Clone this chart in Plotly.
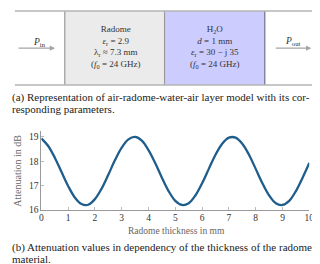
import plotly.graph_objects as go

# ---- data ----
thickness_mm = [0, 0.25, 0.5, 0.75, 1.0, 1.25, 1.5, 1.75, 2.0, 2.25, 2.5, 2.75, 3.0, 3.25,
                3.5, 3.75, 4.0, 4.25, 4.5, 4.75, 5.0, 5.25, 5.5, 5.75, 6.0, 6.25, 6.5, 6.75,
                7.0, 7.25, 7.5, 7.75, 8.0, 8.25, 8.5, 8.75, 9.0, 9.25, 9.5, 9.75, 10.0]
attenuation_db = [18.94, 18.64, 18.16, 17.57, 16.99, 16.52, 16.25, 16.22, 16.45, 16.88, 17.45,
                  18.05, 18.56, 18.90, 19.00, 18.85, 18.46, 17.93, 17.33, 16.78, 16.38, 16.21,
                  16.28, 16.60, 17.10, 17.69, 18.27, 18.72, 18.97, 18.97, 18.72, 18.27, 17.69,
                  17.10, 16.60, 16.28, 16.21, 16.38, 16.78, 17.33, 17.93]
x_ticks = [0, 1, 2, 3, 4, 5, 6, 7, 8, 9, 10]
y_ticks = [16, 17, 18, 19]

radome_lines = ["Radome", "<i>ε</i><sub>r</sub> = 2.9", "λ<sub>r</sub> ≈ 7.3 mm",
                "(<i>f</i><sub>0</sub> = 24 GHz)"]
water_lines = ["H<sub>2</sub>O", "<i>d</i> = 1 mm", "<i>ε</i><sub>r</sub> = 30 − j 35",
               "(<i>f</i><sub>0</sub> = 24 GHz)"]
caption_a = ["(a) Representation of air-radome-water-air layer model with its cor-",
             "responding parameters."]
caption_b = ["(b) Attenuation values in dependency of the thickness of the radome",
             "material."]

W, H = 320, 264
SERIF = "Liberation Serif, DejaVu Serif, serif"


def px(x):
    return x / W


def py(y):
    return 1 - y / H


def label(x, y, text, size, color, xanchor="center", **kw):
    return dict(xref="paper", yref="paper", x=px(x), y=py(y), text=text, showarrow=False,
                xanchor=xanchor, yanchor="middle",
                font=dict(family=SERIF, size=size, color=color), **kw)


fig = go.Figure()
fig.add_trace(go.Scatter(x=thickness_mm, y=attenuation_db, mode="lines",
                         line=dict(color="#1f5d8c", width=2.3, shape="spline"),
                         showlegend=False, hoverinfo="skip"))

shapes = []
# layer boxes
shapes.append(dict(type="rect", xref="paper", yref="paper", x0=px(56), x1=px(158),
                   y0=py(78.5), y1=py(3), fillcolor="#ebebeb", line=dict(width=0), layer="below"))
shapes.append(dict(type="rect", xref="paper", yref="paper", x0=px(158), x1=px(260.5),
                   y0=py(78.5), y1=py(3), fillcolor="#ccccff", line=dict(width=0), layer="below"))
for xv, col in [(56, "#9a9a9a"), (158, "#9a9a9a"), (260.5, "#70708f")]:
    shapes.append(dict(type="line", xref="paper", yref="paper", x0=px(xv), x1=px(xv),
                       y0=py(78.5), y1=py(3), line=dict(color=col, width=1.2)))
for yv in [3, 78.5]:
    shapes.append(dict(type="line", xref="paper", yref="paper", x0=px(5), x1=px(312),
                       y0=py(yv), y1=py(yv), line=dict(color="#b4b4b4", width=1.5)))

ann = []
# arrows
for x_head, length in [(46, 38), (308, 37)]:
    ann.append(dict(xref="paper", yref="paper", x=px(x_head), y=py(41), ax=-length, ay=0,
                    axref="pixel", ayref="pixel", text="", showarrow=True, arrowhead=2,
                    arrowsize=0.8, arrowwidth=1.3, arrowcolor="#a5a5a5"))
ann.append(label(30, 35, "<i>P</i><sub>in</sub>", 9.5, "#333"))
ann.append(label(289, 34, "<i>P</i><sub>out</sub>", 9.5, "#333"))
ann.append(label(108, 40, "<br>".join(radome_lines), 9, "#333"))
ann.append(label(210, 40, "<br>".join(water_lines), 9, "#333"))
for i, t in enumerate(caption_a):
    ann.append(label(1, 91 + 12 * i, t, 11, "#222", xanchor="left", borderpad=0))
for i, t in enumerate(caption_b):
    ann.append(label(1, 244.5 + 11.5 * i, t, 11, "#222", xanchor="left", borderpad=0))
# axis titles
ann.append(label(170, 227, "Radome thickness in mm", 9.5, "#666"))
ann.append(label(8, 166, "Attenuation in dB", 10, "#666", textangle=-90))

fig.update_layout(
    width=W, height=H, margin=dict(l=0, r=0, t=0, b=0),
    paper_bgcolor="white", plot_bgcolor="white",
    shapes=shapes, annotations=ann,
    xaxis=dict(domain=[px(32), px(306)], range=[0, 10], tickvals=x_ticks,
               showgrid=False, zeroline=False, showline=True, linecolor="#9a9a9a", linewidth=1,
               ticks="inside", ticklen=3, tickcolor="#bbbbbb", ticklabelstandoff=-1,
               tickfont=dict(family=SERIF, size=9.5, color="#333"), anchor="y"),
    yaxis=dict(domain=[py(206), py(125.7)], range=[16, 19.23], tickvals=y_ticks,
               showgrid=False, zeroline=False, showline=True, linecolor="#9a9a9a", linewidth=1,
               ticks="inside", ticklen=3, tickcolor="#bbbbbb",
               tickfont=dict(family=SERIF, size=9.5, color="#333"), anchor="x"),
)

fig.write_html("out.html")
